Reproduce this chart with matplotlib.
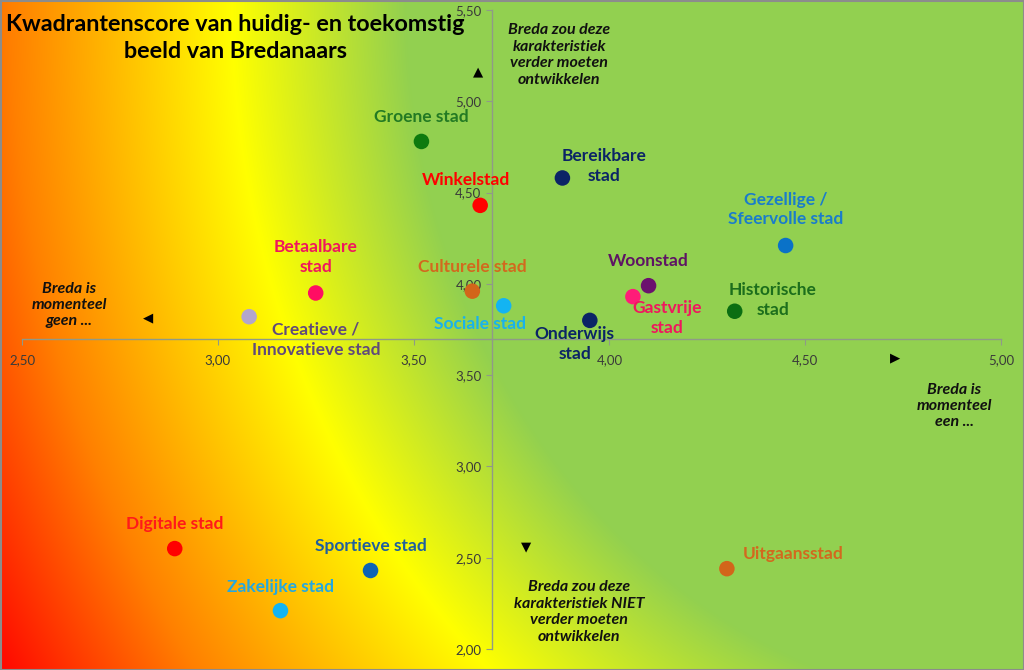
#!/usr/bin/env python3
"""Kwadrantenscore van huidig- en toekomstig beeld van Bredanaars."""

import numpy as np
import matplotlib
matplotlib.use("Agg")
import matplotlib.pyplot as plt
from matplotlib.patches import Rectangle
from matplotlib.ticker import FuncFormatter

plt.rcParams['font.family'] = ['Lato', 'DejaVu Sans']

# data
names = ["Groene stad", "Bereikbare\nstad", "Winkelstad", "Gezellige /\nSfeervolle stad",
         "Betaalbare\nstad", "Culturele stad", "Woonstad", "Sociale stad",
         "Creatieve /\nInnovatieve stad", "Gastvrije\nstad", "Historische\nstad",
         "Onderwijs\nstad", "Digitale stad", "Sportieve stad", "Zakelijke stad", "Uitgaansstad"]
huidig = [3.52, 3.88, 3.67, 4.45, 3.25, 3.65, 4.10, 3.73, 3.08, 4.06, 4.32, 3.95,
          2.89, 3.39, 3.16, 4.30]
toekomst = [4.78, 4.58, 4.43, 4.21, 3.95, 3.96, 3.99, 3.88, 3.82, 3.93, 3.85, 3.80,
            2.55, 2.43, 2.21, 2.44]
dot_colors = ["#0E7A0E", "#0B2466", "#FF0000", "#0A72C8", "#FF0D63", "#D2651A",
              "#6B116E", "#13B4F2", "#B3A6CC", "#FF1C78", "#0B6E12", "#0B2466",
              "#FF0000", "#0D63B5", "#13B4F2", "#D2651A"]
label_colors = ["#237A23", "#0B2466", "#FF0000", "#1A7CCB", "#F0165E", "#D2691E",
                "#5E1364", "#19B2EC", "#604A7B", "#F0165E", "#1C6E1C", "#0B2466",
                "#FF1A1A", "#1F5F9E", "#24A8E0", "#D2691E"]
x_ticks = [2.5, 3.0, 3.5, 4.0, 4.5, 5.0]
y_ticks = [2.0, 2.5, 3.0, 3.5, 4.0, 4.5, 5.0, 5.5]

# label offsets in pixels (dx, dy)
offsets = [(0, 24), (42, 12), (-14, 25), (0, 36), (0, 36), (0, 24), (0, 25), (-24, -18),
           (67, -23), (34, -21), (38, 11), (-15, -24), (0, 25), (0, 24), (0, 24), (66, 15)]

W, H = 1024, 670
fig = plt.figure(figsize=(W / 100, H / 100), dpi=100)

# elliptical gradient from the top-right corner (chart area fill)
bg = fig.add_axes([0, 0, 1, 1], zorder=0)
xx, yy = np.meshgrid(np.arange(W), np.arange(H))
d = np.hypot((W - xx) / 792, yy / 907)
stops = [0, 0.78, 1.0, 1.28, 1.5]
cols = np.array([[146, 208, 80], [146, 208, 80], [255, 255, 0], [255, 128, 0], [255, 0, 0]]) / 255
img = np.stack([np.interp(d, stops, cols[:, i]) for i in range(3)], axis=-1)
bg.imshow(img, aspect='auto', extent=[0, W, H, 0])
bg.set_xlim(0, W)
bg.set_ylim(H, 0)
bg.axis('off')
bg.add_patch(Rectangle((0.5, 0.5), W - 1, H - 1, fill=False, edgecolor='#8C8C8C', lw=1.5))

ax = fig.add_axes([22 / W, 1 - 649 / H, (1001 - 22) / W, (649 - 10) / H], zorder=1)
ax.patch.set_alpha(0)
ax.set_xlim(2.5, 5.0)
ax.set_ylim(2.0, 5.5)
ax.spines['left'].set_position(('data', 3.70))
ax.spines['bottom'].set_position(('data', 3.70))
ax.spines['right'].set_visible(False)
ax.spines['top'].set_visible(False)
for s in ('left', 'bottom'):
    ax.spines[s].set_color('#8F9A88')
    ax.spines[s].set_linewidth(1.0)
ax.set_xticks(x_ticks)
ax.set_yticks(y_ticks)
fmt = FuncFormatter(lambda v, p: f"{v:.2f}".replace('.', ','))
ax.xaxis.set_major_formatter(fmt)
ax.yaxis.set_major_formatter(fmt)
ax.tick_params(axis='both', colors='#8F9A88', labelcolor='#3A3A3A', labelsize=9.5,
               length=4, direction='out')
ax.tick_params(axis='x', pad=7)

ax.scatter(huidig, toekomst, s=125, c=dot_colors, zorder=3, linewidths=0)
for name, x, y, c, (dx, dy) in zip(names, huidig, toekomst, label_colors, offsets):
    ax.annotate(name, (x, y), xytext=(dx, dy), textcoords='offset pixels',
                ha='center', va='center', fontsize=12.5, fontweight='bold',
                color=c, linespacing=1.3, zorder=4)

# title
fig.text(235 / W, 1 - 38 / H, "Kwadrantenscore van huidig- en toekomstig\nbeeld van Bredanaars",
         ha='center', va='center', fontsize=16.8, fontweight='bold', color='black',
         linespacing=1.3, zorder=5)

# quadrant explanations
qstyle = dict(ha='center', va='center', fontsize=11.5, fontweight='bold', style='italic',
              color='#111111', linespacing=1.22, zorder=5)
fig.text(559 / W, 1 - 55 / H, "Breda zou deze\nkarakteristiek\nverder moeten\nontwikkelen", **qstyle)
fig.text(579 / W, 1 - 612 / H, "Breda zou deze\nkarakteristiek NIET\nverder moeten\nontwikkelen", **qstyle)
fig.text(69 / W, 1 - 305 / H, "Breda is\nmomenteel\ngeen ...", **qstyle)
fig.text(954 / W, 1 - 406 / H, "Breda is\nmomenteel\neen ...", **qstyle)

# arrows
astyle = dict(ha='center', va='center', fontsize=9.5, color='black', family='DejaVu Sans', zorder=5)
fig.text(478 / W, 1 - 72 / H, "▲", **astyle)
fig.text(526 / W, 1 - 547 / H, "▼", **astyle)
fig.text(148 / W, 1 - 318 / H, "◀", **astyle)
fig.text(895 / W, 1 - 358 / H, "▶", **astyle)

fig.savefig("out.png", dpi=100)
